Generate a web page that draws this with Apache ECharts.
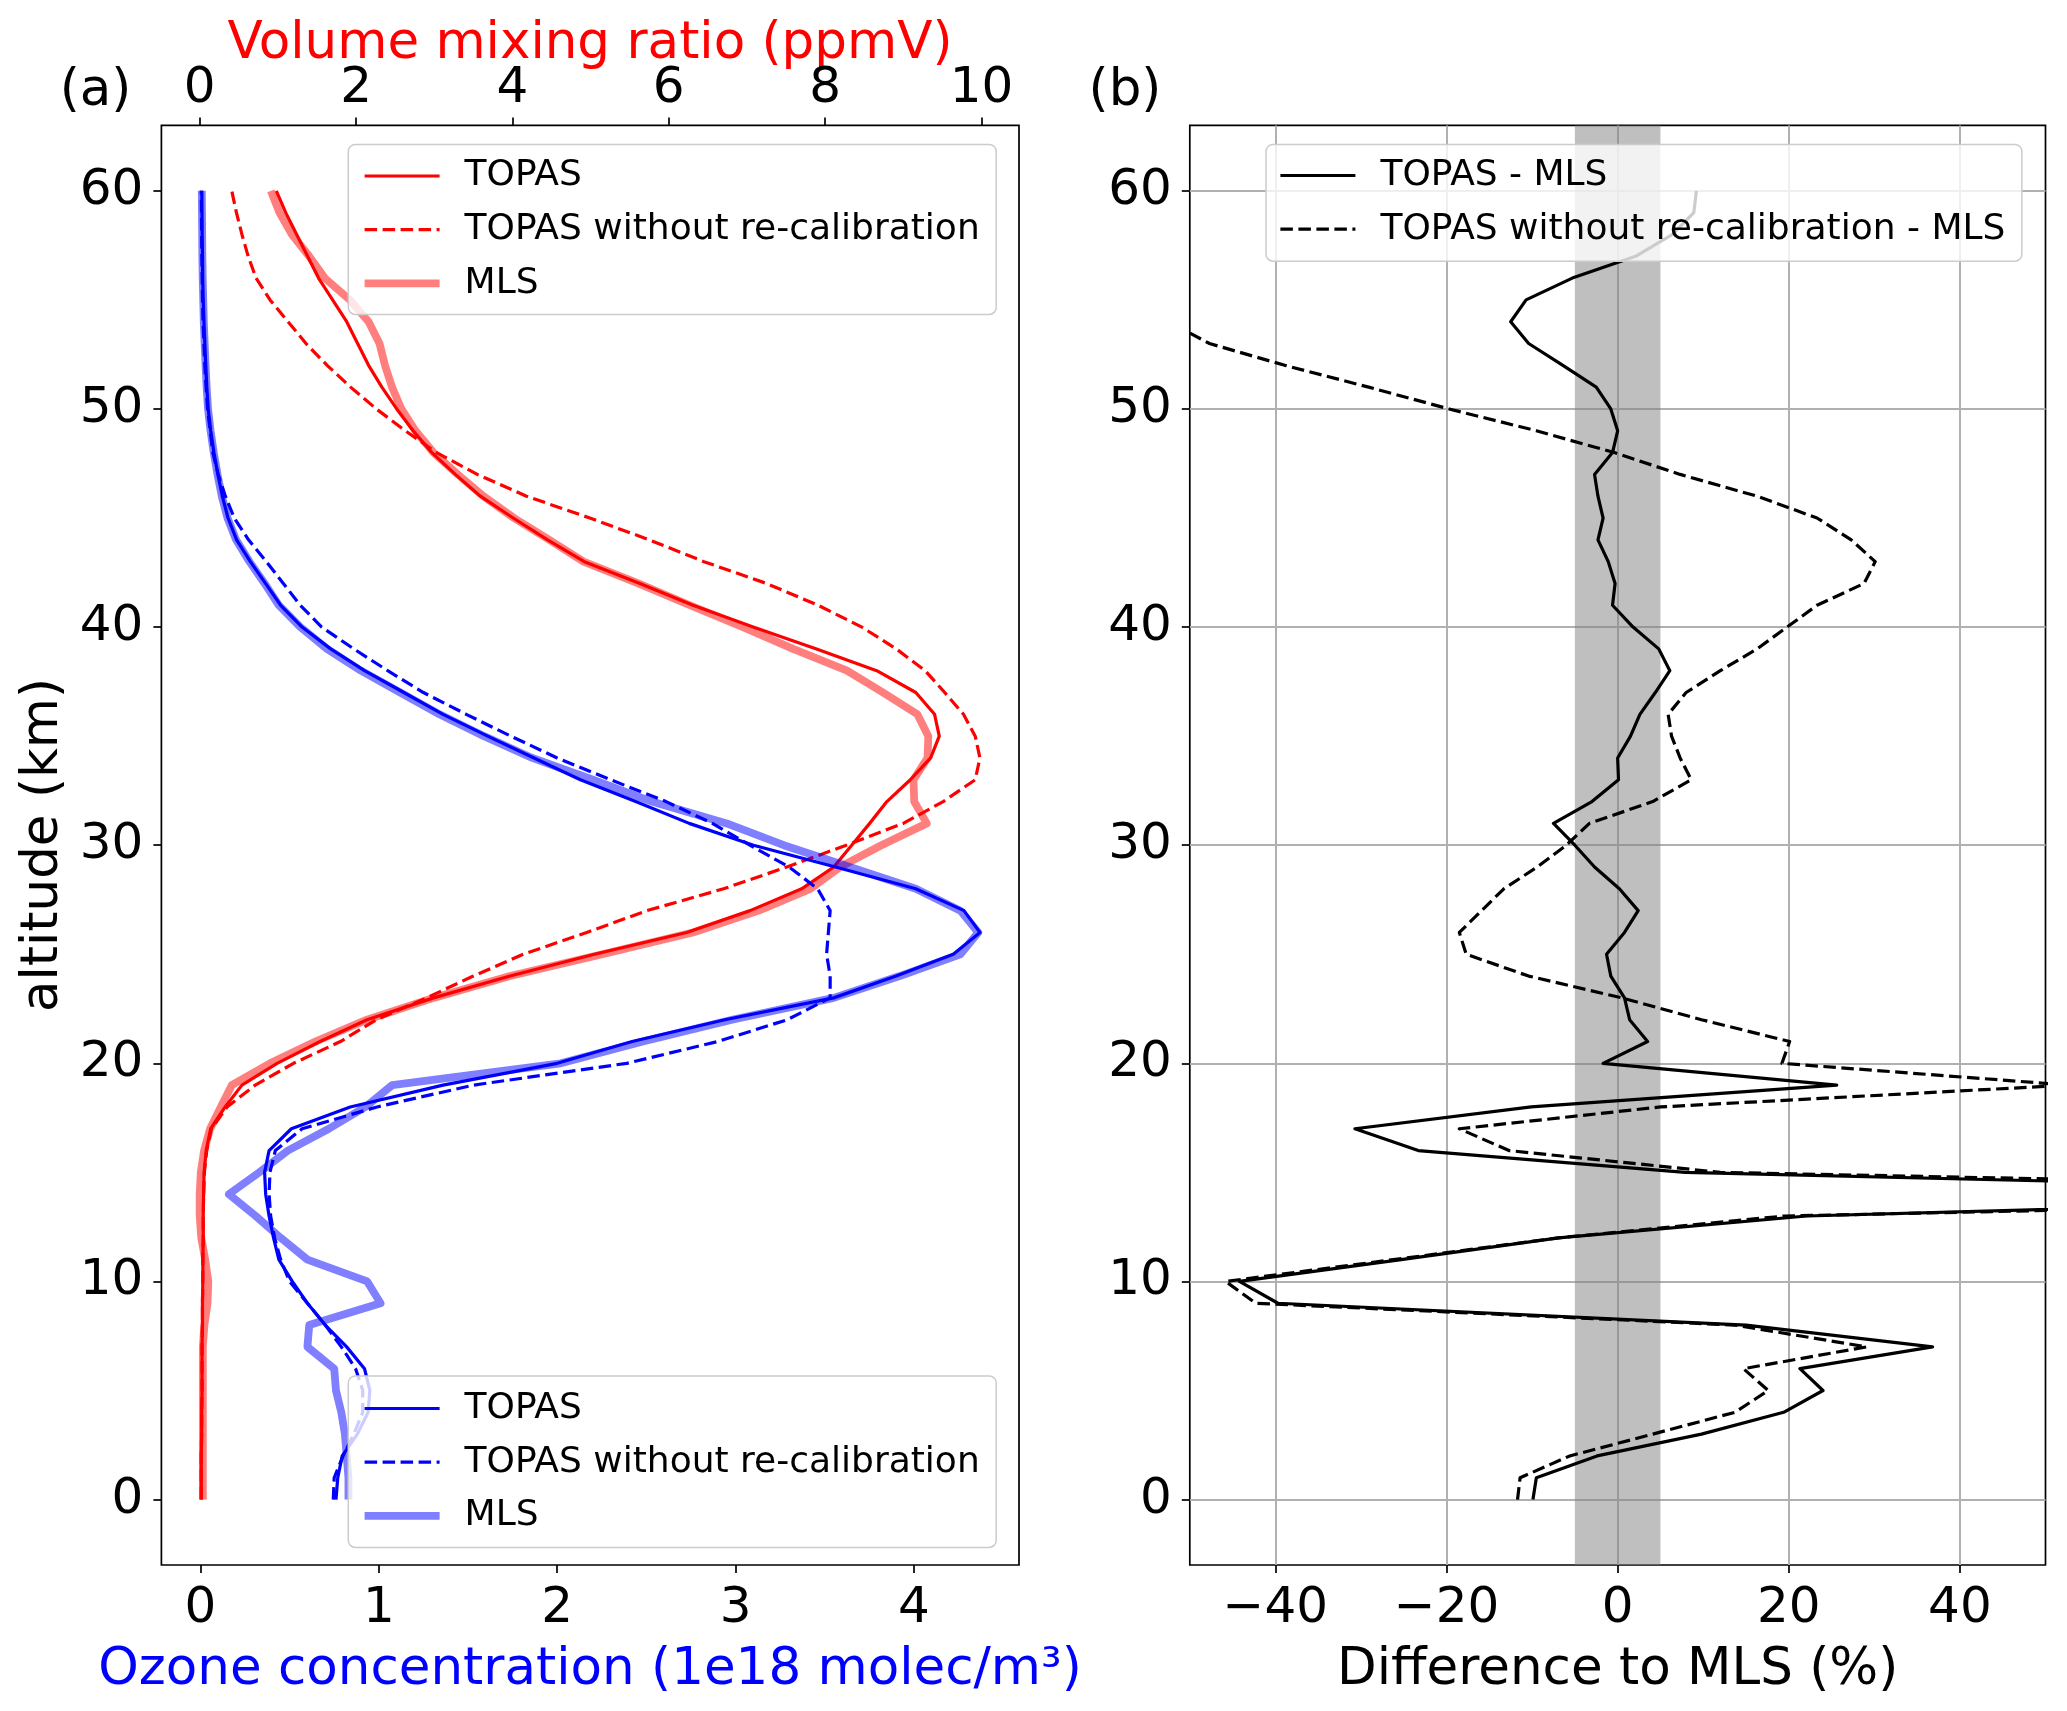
<!DOCTYPE html>
<html>
<head>
<meta charset="utf-8">
<script src="https://cdn.jsdelivr.net/npm/echarts@6/dist/echarts.min.js"></script>
<style>
html,body{margin:0;padding:0;background:#fff;}
#chart{width:2067px;height:1711px;}
</style>
</head>
<body>
<div id="chart"></div>
<script>
// ---- data ----
const altitude = [0,1,2,3,4,5,6,7,8,9,10,11,12,13,14,15,16,17,18,19,20,21,22,23,24,25,26,27,28,29,30,31,32,33,34,35,36,37,38,39,40,41,42,43,44,45,46,47,48,49,50,51,52,53,54,55,56,57,58,59,60];

// Volume mixing ratio (ppmV)
const vmrTopas = [0.02,0.02,0.02,0.025,0.025,0.03,0.03,0.03,0.035,0.035,0.04,0.04,0.045,0.045,0.05,0.056,0.082,0.14,0.325,0.54,0.99,1.54,2.14,2.99,3.97,5.05,6.23,7.04,7.70,8.11,8.34,8.57,8.79,9.09,9.35,9.46,9.40,9.16,8.66,7.89,7.08,6.31,5.63,4.92,4.45,4.01,3.59,3.27,2.97,2.73,2.52,2.33,2.16,2.02,1.88,1.70,1.52,1.38,1.24,1.10,0.98];
const vmrNoCal = [0.02,0.02,0.02,0.025,0.025,0.03,0.03,0.03,0.035,0.035,0.04,0.04,0.045,0.045,0.05,0.06,0.09,0.15,0.35,0.71,1.20,1.80,2.26,2.90,3.50,4.14,4.95,5.72,6.70,7.51,8.27,9.00,9.51,9.92,9.98,9.92,9.77,9.53,9.28,8.91,8.47,7.91,7.25,6.45,5.75,4.99,4.18,3.55,3.03,2.63,2.26,1.93,1.63,1.36,1.13,0.90,0.72,0.62,0.54,0.47,0.41];
const vmrMls = [0.04,0.04,0.04,0.04,0.04,0.04,0.04,0.04,0.06,0.10,0.11,0.07,0.02,0.0,0.0,0.014,0.056,0.133,0.27,0.41,0.90,1.48,2.14,2.99,3.97,5.15,6.31,7.15,7.81,8.19,8.72,9.30,9.14,9.13,9.31,9.32,9.18,8.74,8.28,7.59,6.95,6.27,5.61,4.91,4.47,4.02,3.63,3.30,2.99,2.76,2.58,2.46,2.37,2.30,2.16,1.92,1.60,1.40,1.18,1.02,0.91];

// Ozone concentration (1e18 molec/m3)
const concTopas = [0.76,0.77,0.795,0.88,0.94,0.95,0.92,0.82,0.70,0.60,0.515,0.44,0.41,0.385,0.366,0.36,0.385,0.51,0.84,1.36,2.00,2.42,2.94,3.55,3.90,4.22,4.37,4.28,4.01,3.56,3.10,2.74,2.44,2.13,1.87,1.61,1.36,1.14,0.92,0.73,0.57,0.45,0.365,0.28,0.203,0.155,0.123,0.098,0.076,0.058,0.044,0.036,0.03,0.025,0.02,0.016,0.013,0.012,0.01,0.009,0.008];
const concNoCal = [0.745,0.75,0.80,0.86,0.91,0.91,0.87,0.79,0.70,0.60,0.50,0.45,0.416,0.394,0.385,0.39,0.42,0.57,0.99,1.53,2.39,2.90,3.29,3.53,3.53,3.51,3.52,3.53,3.46,3.30,3.08,2.87,2.61,2.30,2.00,1.74,1.49,1.25,1.05,0.86,0.68,0.56,0.465,0.37,0.27,0.19,0.14,0.10,0.07,0.055,0.04,0.032,0.025,0.02,0.015,0.012,0.01,0.008,0.007,0.006,0.005];
const concMls = [0.83,0.83,0.82,0.81,0.79,0.76,0.75,0.60,0.61,1.01,0.935,0.60,0.45,0.31,0.16,0.33,0.49,0.72,0.925,1.075,2.02,2.48,2.98,3.55,3.92,4.26,4.36,4.26,4.01,3.64,3.27,2.95,2.53,2.20,1.86,1.59,1.34,1.12,0.90,0.71,0.56,0.44,0.36,0.275,0.20,0.152,0.12,0.096,0.075,0.057,0.043,0.035,0.029,0.024,0.019,0.016,0.013,0.011,0.01,0.009,0.008];

// Difference to MLS (%)
const diffTopas = [-9.9,-9.5,-2.4,9.8,19.4,24.0,21.3,36.8,15.0,-39.7,-44.2,-25.3,-6.9,22.1,115,7.9,-23.3,-30.7,-10.1,25.6,-1.7,3.5,1.4,0.8,-0.8,-1.3,0.8,2.4,0.2,-2.7,-5.0,-7.5,-3.0,0.1,0.0,1.5,2.6,4.4,6.1,4.8,1.8,-0.6,-0.3,-1.1,-2.3,-1.7,-2.3,-2.7,-0.6,0.0,-0.8,-2.5,-6.4,-10.4,-12.5,-10.7,-5.3,2.1,6.4,8.9,9.2];
const diffNoCal = [-11.7,-11.4,-5.6,4.1,13.7,17.6,14.7,29.1,13.7,-42.3,-45.8,-26.2,-6.9,19.5,140,12,-12.7,-18.5,5.0,52.7,19.2,20.1,9.8,0.5,-10.4,-17.7,-18.5,-15.9,-13.3,-9.4,-6.0,-3.3,4.1,8.6,7.3,6.3,5.9,8.0,12.0,16.3,19.8,23.3,28.8,30.1,27.3,23.3,16.3,7.3,-0.4,-9.5,-19.7,-29.1,-38.9,-47.7,-52.5,-55,-56,-57,-56,-55,-56];
const bandLimits = [-5, 5];

// tick labels
const concTicks = [0,1,2,3,4];
const vmrTicks = [0,2,4,6,8,10];
const altTicks = [0,10,20,30,40,50,60];
const diffTicks = [-40,-20,0,20,40];

const legendText = {
  vmrTopas: 'TOPAS', vmrNoCal: 'TOPAS without re-calibration', vmrMls: 'MLS',
  concTopas: 'TOPAS', concNoCal: 'TOPAS without re-calibration', concMls: 'MLS',
  diffTopas: 'TOPAS - MLS', diffNoCal: 'TOPAS without re-calibration - MLS'
};

// ---- chart ----
const FONT = 'DejaVu Sans';
const TICK = 50;
const TITLE = 51.5;
const LEG = 36;
const THIN = 3.2;
const THICK = 7.8;
const DASH = [12.5, 5.5];
const pairs = (vals) => vals.map((v, i) => [v, altitude[i]]);
const minusFmt = (v) => (v < 0 ? '\u2212' + Math.abs(v) : String(v));

const G0 = {left: 161.4, top: 125.4, width: 857.6, height: 1439.6};
const G1 = {left: 1189.8, top: 125.4, width: 855.7, height: 1439.6};

function axisCommon(ticks, margin, pad, extra) {
  return Object.assign({
    type: 'value',
    axisLine: {show: false, onZero: false},
    axisTick: {show: true, length: 8, inside: false, customValues: ticks, lineStyle: {color: '#000', width: 1.7}},
    axisLabel: {customValues: ticks, fontSize: TICK, fontFamily: FONT, color: '#000', margin: margin, padding: pad, formatter: minusFmt},
    splitLine: {show: false}
  }, extra);
}

function legendBox(left, top, items, padding) {
  return {
    left: left, top: top, orient: 'vertical',
    data: items,
    itemWidth: 75, itemHeight: 14, itemGap: 13.7,
    padding: padding,
    backgroundColor: 'rgba(255,255,255,0.8)',
    borderColor: '#cccccc', borderWidth: 1.5, borderRadius: 7,
    selectedMode: false,
    itemStyle: {opacity: 0},
    formatter: (n) => legendText[n],
    textStyle: {fontSize: LEG, fontFamily: FONT, color: '#000', lineHeight: 40, padding: [0, 0, 0, 20]}
  };
}

function legendItem(name, color, width, dashed) {
  return {name: name, itemStyle: {opacity: 0},
    lineStyle: {color: color, width: width, type: dashed ? DASH : 'solid', opacity: 1}};
}

function lineSeries(name, vals, xi, yi, color, width, dashed, z) {
  return {
    name: name, type: 'line', xAxisIndex: xi, yAxisIndex: yi,
    data: pairs(vals), symbol: 'none', showSymbol: false, z: z,
    itemStyle: {color: color},
    lineStyle: {color: color, width: width, type: dashed ? DASH : 'solid', join: 'round', cap: 'butt'},
    emphasis: {disabled: true}
  };
}

const RED = '#ff0000', RED_A = 'rgba(255,0,0,0.5)';
const BLUE = '#0000ff', BLUE_A = 'rgba(0,0,255,0.5)';
const BLACK = '#000000';

const option = {
  animation: false,
  backgroundColor: '#ffffff',
  grid: [
    Object.assign({show: true, borderColor: '#000', borderWidth: 1.7, backgroundColor: 'transparent'}, G0),
    Object.assign({show: true, borderColor: '#000', borderWidth: 1.7, backgroundColor: 'transparent'}, G1)
  ],
  xAxis: [
    axisCommon(concTicks, 19, [0, 0, 0, 0], {gridIndex: 0, position: 'bottom', min: -0.2185, max: 4.5885}),
    axisCommon(vmrTicks, 11, [0, 0, 0, 0], {gridIndex: 0, position: 'top', min: -0.49, max: 10.48}),
    axisCommon(diffTicks, 19, [0, 0, 0, 0], {gridIndex: 1, position: 'bottom', min: -50, max: 50,
      splitLine: {show: true, lineStyle: {color: '#b0b0b0', width: 2}}})
  ],
  yAxis: [
    axisCommon(altTicks, 18, [8, 0, 0, 0], {gridIndex: 0, position: 'left', min: -3, max: 63}),
    axisCommon(altTicks, 18, [8, 0, 0, 0], {gridIndex: 1, position: 'left', min: -3, max: 63,
      splitLine: {show: true, lineStyle: {color: '#b0b0b0', width: 2}}})
  ],
  legend: [
    legendBox(348.3, 144.5, [
      legendItem('vmrTopas', RED, THIN, false),
      legendItem('vmrNoCal', RED, THIN, true),
      legendItem('vmrMls', RED_A, THICK, false)
    ], [11.5, 16.5, 11, 12.4]),
    legendBox(348.3, 1376, [
      legendItem('concTopas', BLUE, THIN, false),
      legendItem('concNoCal', BLUE, THIN, true),
      legendItem('concMls', BLUE_A, THICK, false)
    ], [12.5, 16.5, 11.5, 12.4]),
    legendBox(1266, 144.5, [
      legendItem('diffTopas', BLACK, THIN, false),
      legendItem('diffNoCal', BLACK, THIN, true)
    ], [11, 16.5, 12, 12.8])
  ],
  series: [
    lineSeries('vmrTopas', vmrTopas, 1, 0, RED, THIN, false, 2),
    lineSeries('vmrNoCal', vmrNoCal, 1, 0, RED, THIN, true, 2),
    lineSeries('vmrMls', vmrMls, 1, 0, RED_A, THICK, false, 2),
    lineSeries('concTopas', concTopas, 0, 0, BLUE, THIN, false, 3),
    lineSeries('concNoCal', concNoCal, 0, 0, BLUE, THIN, true, 3),
    lineSeries('concMls', concMls, 0, 0, BLUE_A, THICK, false, 3),
    {
      name: 'band', type: 'line', xAxisIndex: 2, yAxisIndex: 1, data: [], z: 1,
      markArea: {silent: true, itemStyle: {color: 'rgba(128,128,128,0.5)'},
        data: [[{xAxis: bandLimits[0]}, {xAxis: bandLimits[1]}]]}
    },
    lineSeries('diffTopas', diffTopas, 2, 1, BLACK, THIN, false, 2),
    lineSeries('diffNoCal', diffNoCal, 2, 1, BLACK, THIN, true, 2)
  ],
  graphic: [
    {type: 'text', x: 590, y: 45, style: {text: 'Volume mixing ratio (ppmV)', fill: RED, font: TITLE + 'px "' + FONT + '"', align: 'center', verticalAlign: 'middle'}},
    {type: 'text', x: 590, y: 1671, style: {text: 'Ozone concentration (1e18 molec/m\u00b3)', fill: BLUE, font: TITLE + 'px "' + FONT + '"', align: 'center', verticalAlign: 'middle'}},
    {type: 'text', x: 1617.7, y: 1671, style: {text: 'Difference to MLS (%)', fill: '#000', font: TITLE + 'px "' + FONT + '"', align: 'center', verticalAlign: 'middle'}},
    {type: 'text', x: 44, y: 845, rotation: Math.PI / 2, style: {text: 'altitude (km)', fill: '#000', font: TITLE + 'px "' + FONT + '"', align: 'center', verticalAlign: 'middle'}},
    {type: 'text', x: 95.5, y: 92, style: {text: '(a)', fill: '#000', font: TITLE + 'px "' + FONT + '"', align: 'center', verticalAlign: 'middle'}},
    {type: 'text', x: 1125, y: 92, style: {text: '(b)', fill: '#000', font: TITLE + 'px "' + FONT + '"', align: 'center', verticalAlign: 'middle'}}
  ]
};

const chart = echarts.init(document.getElementById('chart'), null, {renderer: 'canvas', width: 2067, height: 1711});
chart.setOption(option);
</script>
</body>
</html>
